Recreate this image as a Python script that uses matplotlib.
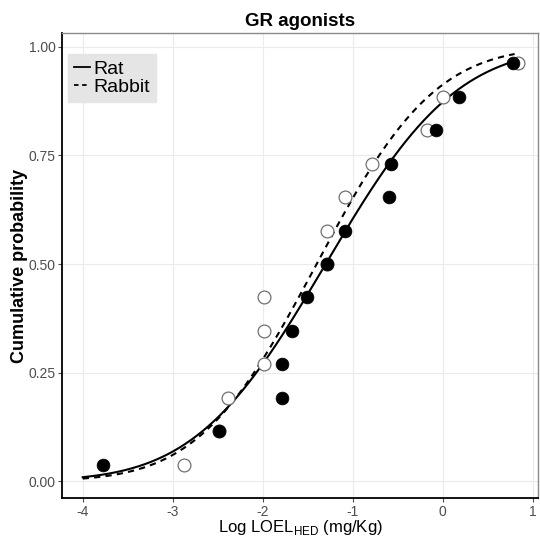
import math
import numpy as np
import matplotlib
matplotlib.use("Agg")
import matplotlib.pyplot as plt
from matplotlib.lines import Line2D

plt.rcParams['font.family'] = ['Liberation Sans', 'DejaVu Sans']

# Data (log10 LOEL_HED, cumulative probability)
rat_x = [-3.77, -2.48, -1.78, -1.78, -1.67, -1.51, -1.29, -1.08, -0.60, -0.57, -0.07, 0.18, 0.78]
rat_y = [0.038, 0.115, 0.192, 0.269, 0.346, 0.423, 0.500, 0.577, 0.654, 0.731, 0.808, 0.885, 0.962]
rabbit_x = [-2.87, -2.48, -2.39, -1.98, -1.98, -1.98, -1.29, -1.28, -1.08, -0.78, -0.17, 0.00, 0.84]
rabbit_y = [0.038, 0.115, 0.192, 0.269, 0.346, 0.423, 0.500, 0.577, 0.654, 0.731, 0.808, 0.885, 0.962]

# Fitted log-normal parameters (mean, sd on log scale)
rat_fit = (-1.30, 1.14)
rabbit_fit = (-1.40, 1.03)
curve_range = (-4.0, 0.8)

xticks = [-4, -3, -2, -1, 0, 1]
yticks = [0.00, 0.25, 0.50, 0.75, 1.00]


def ncdf(x, mu, sd):
    return np.array([0.5 * (1 + math.erf((v - mu) / (sd * math.sqrt(2)))) for v in x])


fig = plt.figure(figsize=(5.40, 5.37), dpi=100)
ax = fig.add_axes([0.1148, 0.0726, 0.8815, 0.8659])

xs = np.linspace(curve_range[0], curve_range[1], 300)
ax.plot(xs, ncdf(xs, *rat_fit), color='black', lw=1.5, ls='-', zorder=3)
ax.plot(xs, ncdf(xs, *rabbit_fit), color='black', lw=1.5, ls=(0, (3, 2.5)), zorder=3)

ax.scatter(rabbit_x, rabbit_y, s=85, facecolors='white', edgecolors='#707070', linewidths=0.9, zorder=4)
ax.scatter(rat_x, rat_y, s=85, facecolors='black', edgecolors='black', linewidths=0.5, zorder=5)

ax.set_xlim(-4.23, 1.06)
ax.set_ylim(-0.039, 1.032)
ax.set_xticks(xticks)
ax.set_xticklabels([str(t) for t in xticks])
ax.set_yticks(yticks)
ax.set_yticklabels([f"{t:.2f}" for t in yticks])
ax.grid(True, color='#EBEBEB', lw=0.8)
ax.set_axisbelow(True)
ax.tick_params(axis='both', colors='#4D4D4D', labelsize=10, length=3, width=0.8, pad=1.5)
ax.tick_params(axis='x', pad=2)

for s in ['left', 'bottom']:
    ax.spines[s].set_color('black')
    ax.spines[s].set_linewidth(1.3)
for s in ['top', 'right']:
    ax.spines[s].set_color('#8A8A8A')
    ax.spines[s].set_linewidth(1.0)

ax.set_title('GR agonists', fontsize=13.5, fontweight='bold', pad=5)
ax.set_ylabel('Cumulative probability', fontsize=13, fontweight='bold')
ax.yaxis.set_label_coords(-0.071, 0.5)
ax.set_xlabel('Log LOEL$_{\\mathregular{HED}}$ (mg/Kg)', fontsize=12)
ax.xaxis.set_label_coords(0.5, -0.043)

handles = [Line2D([0], [0], color='black', lw=1.3, ls='-'),
           Line2D([0], [0], color='black', lw=1.3, ls=(0, (2.5, 2)))]
leg = ax.legend(handles, ['Rat', 'Rabbit'], loc='upper left', bbox_to_anchor=(0.005, 0.963),
                fontsize=14, frameon=True, fancybox=False, handlelength=0.8, handletextpad=0.2,
                labelspacing=0.05, borderpad=0.3, borderaxespad=0.2)
leg.get_frame().set_facecolor('#E5E5E5')
leg.get_frame().set_edgecolor('#E5E5E5')
leg.get_frame().set_alpha(1)

fig.savefig('out.png', dpi=100)
